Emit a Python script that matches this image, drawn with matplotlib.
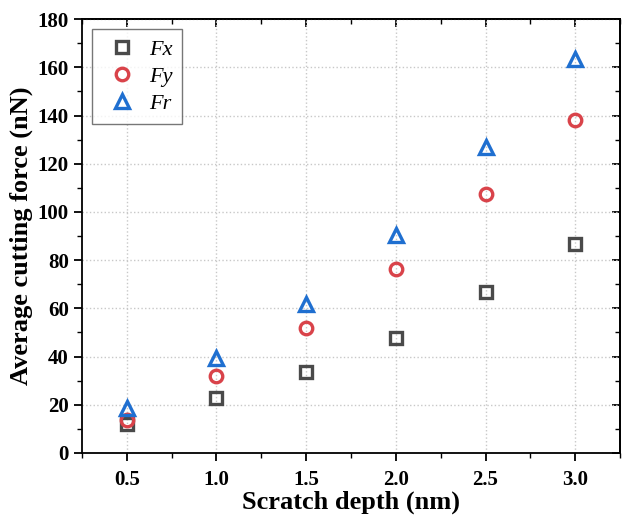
import matplotlib.pyplot as plt
from matplotlib.ticker import MultipleLocator

plt.rcParams['font.family'] = ['Liberation Serif', 'DejaVu Serif']
plt.rcParams['font.weight'] = 'bold'

# Dades
depth = [0.5, 1.0, 1.5, 2.0, 2.5, 3.0]
fx = [12.0, 22.8, 33.5, 47.6, 67.0, 86.5]
fy = [13.8, 31.9, 51.8, 76.3, 107.5, 138.0]
fr = [18.6, 39.4, 62.0, 90.6, 127.0, 163.3]

fig = plt.figure(figsize=(6.22, 5.24), dpi=100)
ax = fig.add_axes([0.1318, 0.1355, 0.865, 0.828])

kw = dict(linestyle='none', markerfacecolor='none', markeredgewidth=2.4)
ax.plot(depth, fx, marker='s', color='#4a4a4a', label='Fx', markersize=8.5, **kw)
ax.plot(depth, fy, marker='o', color='#d9434a', label='Fy', markersize=9, **kw)
ax.plot(depth, fr, marker='^', color='#1f6fd0', label='Fr', markersize=10.5, **kw)

ax.set_xlim(0.25, 3.25)
ax.set_ylim(0, 180)
ax.xaxis.set_major_locator(MultipleLocator(0.5))
ax.xaxis.set_minor_locator(MultipleLocator(0.25))
ax.yaxis.set_major_locator(MultipleLocator(20))
ax.yaxis.set_minor_locator(MultipleLocator(10))
ax.xaxis.set_major_formatter(plt.FormatStrFormatter('%.1f'))

ax.grid(True, which='major', linestyle=':', color='#c8c8c8', linewidth=1.0)
ax.set_axisbelow(True)

ax.tick_params(axis='both', which='major', direction='out', length=6, width=1.3, labelsize=15)
ax.tick_params(axis='x', which='major', pad=6)
ax.tick_params(axis='both', which='minor', direction='out', length=3.5, width=1.0)
ax.tick_params(axis='both', which='both', top=False, right=False)
ax_top = ax.secondary_xaxis('top')
ax_top.xaxis.set_major_locator(MultipleLocator(0.5))
ax_top.xaxis.set_minor_locator(MultipleLocator(0.25))
ax_top.tick_params(which='major', direction='in', length=6, width=1.3, labeltop=False)
ax_top.tick_params(which='minor', direction='in', length=3.5, width=1.0)
ax_right = ax.secondary_yaxis('right')
ax_right.yaxis.set_major_locator(MultipleLocator(20))
ax_right.yaxis.set_minor_locator(MultipleLocator(10))
ax_right.tick_params(which='major', direction='in', length=6, width=1.3, labelright=False)
ax_right.tick_params(which='minor', direction='in', length=3.5, width=1.0)

for s in ax.spines.values():
    s.set_linewidth(1.3)
for a in (ax_top, ax_right):
    for s in a.spines.values():
        s.set_linewidth(1.3)

ax.set_xlabel('Scratch depth (nm)', fontsize=19, fontweight='bold', labelpad=1)
ax.set_ylabel('Average cutting force (nN)', fontsize=19, fontweight='bold', labelpad=3)

leg = ax.legend(loc='upper left', bbox_to_anchor=(0.0186, 0.977), borderaxespad=0,
                frameon=True, fancybox=False, edgecolor='#555555',
                prop={'style': 'italic', 'weight': 'normal', 'size': 16},
                handletextpad=0.3, borderpad=0.45, labelspacing=0.3, handlelength=1.8)
leg.get_frame().set_linewidth(1.0)

fig.savefig('out.png', dpi=100)
